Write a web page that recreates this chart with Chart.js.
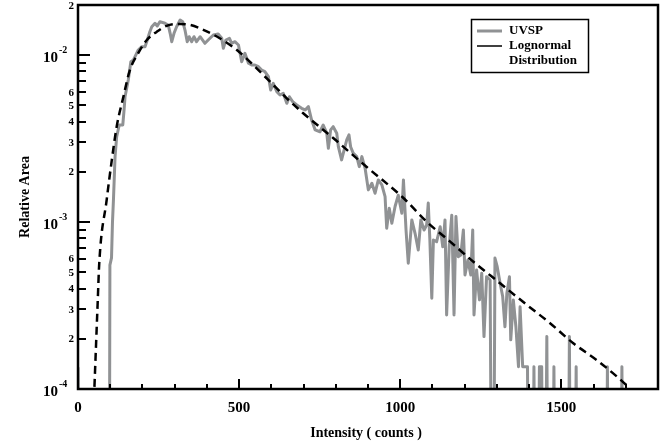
<!DOCTYPE html>
<html>
<head>
<meta charset="utf-8">
<script src="https://cdn.jsdelivr.net/npm/chart.js@4.4.0/dist/chart.umd.min.js"></script>
<style>
  html, body { margin: 0; padding: 0; background: #fff; }
  #wrap { width: 668px; height: 446px; }
</style>
</head>
<body>
<div id="wrap"><canvas id="chart" width="668" height="446"></canvas></div>
<script>
/* global Chart */

// UVSP histogram
// empty bins are given as 1e-6 so the line drops below the axis and gets clipped
const uvspIntensity = [
  0, 8, 96, 99, 104, 107, 110, 115, 120, 128,
  139, 143, 146, 156, 164, 172, 177, 187, 198, 208,
  215, 223, 229, 239, 246, 254, 270, 280, 286, 291,
  298, 306, 317, 325, 332, 339, 345, 353, 360, 368,
  379, 394, 404, 420, 435, 446, 451, 459, 470, 477,
  487, 498, 508, 518, 529, 539, 549, 560, 570, 580,
  591, 598, 606, 617, 627, 637, 648, 656, 666, 679,
  694, 705, 715, 725, 736, 751, 761, 772, 777, 784,
  792, 803, 808, 818, 826, 834, 841, 846, 854, 865,
  873, 881, 891, 901, 912, 922, 932, 943, 953, 958,
  966, 974, 984, 994, 1005, 1010, 1018, 1025, 1036, 1046,
  1056, 1064, 1074, 1082, 1087, 1092, 1098, 1103, 1113, 1124,
  1132, 1139, 1144, 1152, 1160, 1167, 1173, 1180, 1188, 1196,
  1201, 1210, 1219, 1225, 1229, 1237, 1246, 1253, 1260, 1268,
  1279, 1287, 1294, 1301, 1310, 1318, 1325, 1331, 1339, 1343,
  1351, 1359, 1367, 1372, 1380, 1395, 1401, 1408, 1415, 1423,
  1432, 1439, 1446, 1455, 1462, 1470, 1477, 1485, 1518, 1525,
  1532, 1538, 1546, 1553, 1636, 1643, 1650, 1680, 1688, 1695,
  1700
]
const uvspArea = [
  1.35e-4, 1e-6, 1e-6, 5.53e-4, 6.10e-4, 1.00e-3, 1.36e-3, 2.47e-3, 3.25e-3, 3.82e-3,
  3.82e-3, 4.70e-3, 5.64e-3, 7.11e-3, 9.15e-3, 9.37e-3, 9.80e-3, 1.075e-2, 1.125e-2, 1.125e-2,
  1.234e-2, 1.384e-2, 1.483e-2, 1.554e-2, 1.497e-2, 1.589e-2, 1.554e-2, 1.518e-2, 1.353e-2, 1.205e-2,
  1.353e-2, 1.483e-2, 1.626e-2, 1.589e-2, 1.416e-2, 1.205e-2, 1.291e-2, 1.205e-2, 1.291e-2, 1.205e-2,
  1.291e-2, 1.179e-2, 1.234e-2, 1.322e-2, 1.341e-2, 1.263e-2, 1.100e-2, 1.234e-2, 1.263e-2, 1.179e-2,
  1.205e-2, 1.152e-2, 9.15e-3, 1.027e-2, 8.95e-3, 8.74e-3, 8.74e-3, 8.54e-3, 8.16e-3, 7.97e-3,
  7.44e-3, 6.19e-3, 6.79e-3, 6.05e-3, 5.78e-3, 5.92e-3, 5.15e-3, 5.64e-3, 5.27e-3, 5.03e-3,
  4.81e-3, 4.70e-3, 4.92e-3, 4.09e-3, 3.57e-3, 3.48e-3, 3.82e-3, 3.41e-3, 2.77e-3, 3.57e-3,
  3.73e-3, 3.41e-3, 2.83e-3, 2.36e-3, 2.71e-3, 3.11e-3, 3.33e-3, 2.83e-3, 2.59e-3, 2.47e-3,
  2.15e-3, 2.47e-3, 2.10e-3, 1.56e-3, 1.71e-3, 1.49e-3, 1.79e-3, 1.67e-3, 1.42e-3, 9.19e-4,
  1.21e-3, 9.84e-4, 1.24e-3, 1.45e-3, 1.13e-3, 1.79e-3, 8.97e-4, 5.67e-4, 1.03e-3, 8.57e-4,
  6.81e-4, 1.03e-3, 8.97e-4, 9.61e-4, 1.30e-3, 7.81e-4, 3.50e-4, 7.81e-4, 7.63e-4, 9.39e-4,
  7.12e-4, 1.03e-3, 2.78e-4, 7.12e-4, 1.10e-3, 2.78e-4, 1.08e-3, 6.21e-4, 6.35e-4, 8.97e-4,
  4.82e-4, 5.93e-4, 4.82e-4, 8.97e-4, 2.78e-4, 5.17e-4, 3.42e-4, 4.94e-4, 2.06e-4, 4.71e-4,
  4.50e-4, 1e-6, 6.09e-4, 5.41e-4, 4.30e-4, 3.58e-4, 2.36e-4, 3.75e-4, 4.71e-4, 1.97e-4,
  3.42e-4, 2.36e-4, 1.36e-4, 3.11e-4, 1.36e-4, 1.36e-4, 1e-6, 1e-6, 1.36e-4, 1e-6,
  1.36e-4, 1.36e-4, 1e-6, 2.06e-4, 1e-6, 1e-6, 1.36e-4, 1e-6, 1e-6, 2.06e-4,
  1e-6, 1e-6, 1.36e-4, 1e-6, 1e-6, 1.36e-4, 1e-6, 1e-6, 1.36e-4, 1e-6,
  1e-6
]

// fitted lognormal curve (dashed)
const lognormalIntensity = [
  51, 61, 66, 89, 105, 120, 141, 161, 187, 213,
  244, 275, 317, 348, 389, 441, 493, 544, 596, 648,
  699, 792, 896, 1010, 1082, 1155, 1227, 1310, 1393, 1465,
  1537, 1610, 1672, 1708
]
const lognormalArea = [
  1.03e-4, 3.27e-4, 5.7e-4, 1.36e-3, 2.36e-3, 3.73e-3, 5.65e-3, 8.15e-3, 1.03e-2, 1.23e-2,
  1.38e-2, 1.50e-2, 1.54e-2, 1.52e-2, 1.42e-2, 1.26e-2, 1.075e-2, 8.74e-3, 6.94e-3, 5.52e-3,
  4.49e-3, 3.19e-3, 2.14e-3, 1.395e-3, 1.006e-3, 7.64e-4, 5.79e-4, 4.3e-4, 3.19e-4, 2.48e-4,
  1.88e-4, 1.49e-4, 1.19e-4, 1.03e-4
]

// axes
const xMajorTicks = [0, 500, 1000, 1500]
const xMinorTicks = [100, 200, 300, 400, 600, 700, 800, 900, 1100, 1200, 1300, 1400, 1600, 1700]
const yDecades = [1e-4, 1e-3, 1e-2]
const yDecadeExponents = ['-4', '-3', '-2']
const yMinorDigits = [2, 3, 4, 5, 6, 7, 8, 9]
const yLabelledDigits = [2, 3, 4, 5, 6]
const yTopLabel = '2'

const GREY = '#909294'
const FONT = '"Liberation Serif", "Times New Roman", serif'

const paperAxes = {
  id: 'paperAxes',
  afterDraw (chart) {
    const ctx = chart.ctx
    const a = chart.chartArea
    const x = chart.scales.x
    const y = chart.scales.y
    const line = (x1, y1, x2, y2) => {
      ctx.beginPath()
      ctx.moveTo(x1, y1)
      ctx.lineTo(x2, y2)
      ctx.stroke()
    }
    ctx.save()
    ctx.strokeStyle = '#000'
    ctx.fillStyle = '#000'

    // ticks, pointing inwards
    ctx.lineWidth = 2
    xMinorTicks.forEach(v => {
      const px = Math.round(x.getPixelForValue(v))
      line(px, a.bottom, px, a.bottom - 5)
    })
    xMajorTicks.forEach(v => {
      const px = Math.round(x.getPixelForValue(v))
      line(px, a.bottom, px, a.bottom - 10)
    })
    yDecades.slice(0, 2).forEach(d => {
      yMinorDigits.forEach(n => {
        const py = Math.round(y.getPixelForValue(n * d))
        line(a.left, py, a.left + 8, py)
      })
    })
    yDecades.slice(1).forEach(d => {
      const py = Math.round(y.getPixelForValue(d))
      line(a.left, py, a.left + 12, py)
    })

    // frame
    ctx.lineWidth = 2.5
    ctx.strokeRect(a.left, a.top, a.right - a.left, a.bottom - a.top)

    // x labels
    ctx.font = `bold 15px ${FONT}`
    ctx.textAlign = 'center'
    ctx.textBaseline = 'middle'
    xMajorTicks.forEach(v => {
      ctx.fillText(String(v), x.getPixelForValue(v), a.bottom + 19)
    })

    // y labels
    ctx.font = `bold 11px ${FONT}`
    ctx.textAlign = 'right'
    yDecades.slice(0, 2).forEach(d => {
      yLabelledDigits.forEach(n => {
        ctx.fillText(String(n), a.left - 4, y.getPixelForValue(n * d) + 0.5)
      })
    })
    ctx.fillText(yTopLabel, a.left - 4, a.top + 1)
    yDecades.forEach((d, i) => {
      const py = y.getPixelForValue(d)
      ctx.font = `bold 15px ${FONT}`
      ctx.textAlign = 'right'
      ctx.fillText('10', a.left - 20, py + 3)
      ctx.font = `bold 10px ${FONT}`
      ctx.textAlign = 'left'
      ctx.fillText(yDecadeExponents[i], a.left - 19, py - 5)
    })

    // axis titles
    ctx.font = `bold 14px ${FONT}`
    ctx.textAlign = 'center'
    ctx.fillText('Intensity ( counts )', (a.left + a.right) / 2 - 2, 433)
    ctx.save()
    ctx.translate(25, (a.top + a.bottom) / 2)
    ctx.rotate(-Math.PI / 2)
    ctx.fillText('Relative Area', 0, 0)
    ctx.restore()

    // legend box
    ctx.lineWidth = 1.5
    ctx.strokeRect(471.5, 19.5, 117, 53)
    ctx.strokeStyle = GREY
    ctx.lineWidth = 3
    line(477, 31, 502, 31)
    ctx.strokeStyle = '#000'
    ctx.lineWidth = 1.5
    line(477, 46, 502, 46)
    ctx.font = `bold 13px ${FONT}`
    ctx.textAlign = 'left'
    ctx.fillText('UVSP', 509, 31)
    ctx.fillText('Lognormal', 509, 46)
    ctx.fillText('Distribution', 509, 61)
    ctx.restore()
  }
}

const chart = new Chart(document.getElementById('chart'), {
  type: 'line',
  data: {
    datasets: [
      {
        label: 'Lognormal Distribution',
        data: lognormalIntensity.map((v, i) => ({ x: v, y: lognormalArea[i] })),
        borderColor: '#000',
        borderWidth: 2.5,
        borderDash: [8, 5],
        cubicInterpolationMode: 'monotone',
        pointRadius: 0,
        fill: false,
        order: 0
      },
      {
        label: 'UVSP',
        data: uvspIntensity.map((v, i) => ({ x: v, y: uvspArea[i] })),
        borderColor: GREY,
        borderWidth: 3,
        borderJoinStyle: 'round',
        tension: 0,
        pointRadius: 0,
        fill: false,
        order: 1
      }
    ]
  },
  options: {
    responsive: false,
    devicePixelRatio: 1,
    animation: false,
    layout: { padding: { left: 78, right: 10, top: 5, bottom: 57 } },
    plugins: { legend: { display: false }, tooltip: { enabled: false } },
    scales: {
      x: { type: 'linear', min: 0, max: 1800, display: false },
      y: { type: 'logarithmic', min: 1e-4, max: 2e-2, display: false }
    }
  },
  plugins: [paperAxes]
})
</script>
</body>
</html>
